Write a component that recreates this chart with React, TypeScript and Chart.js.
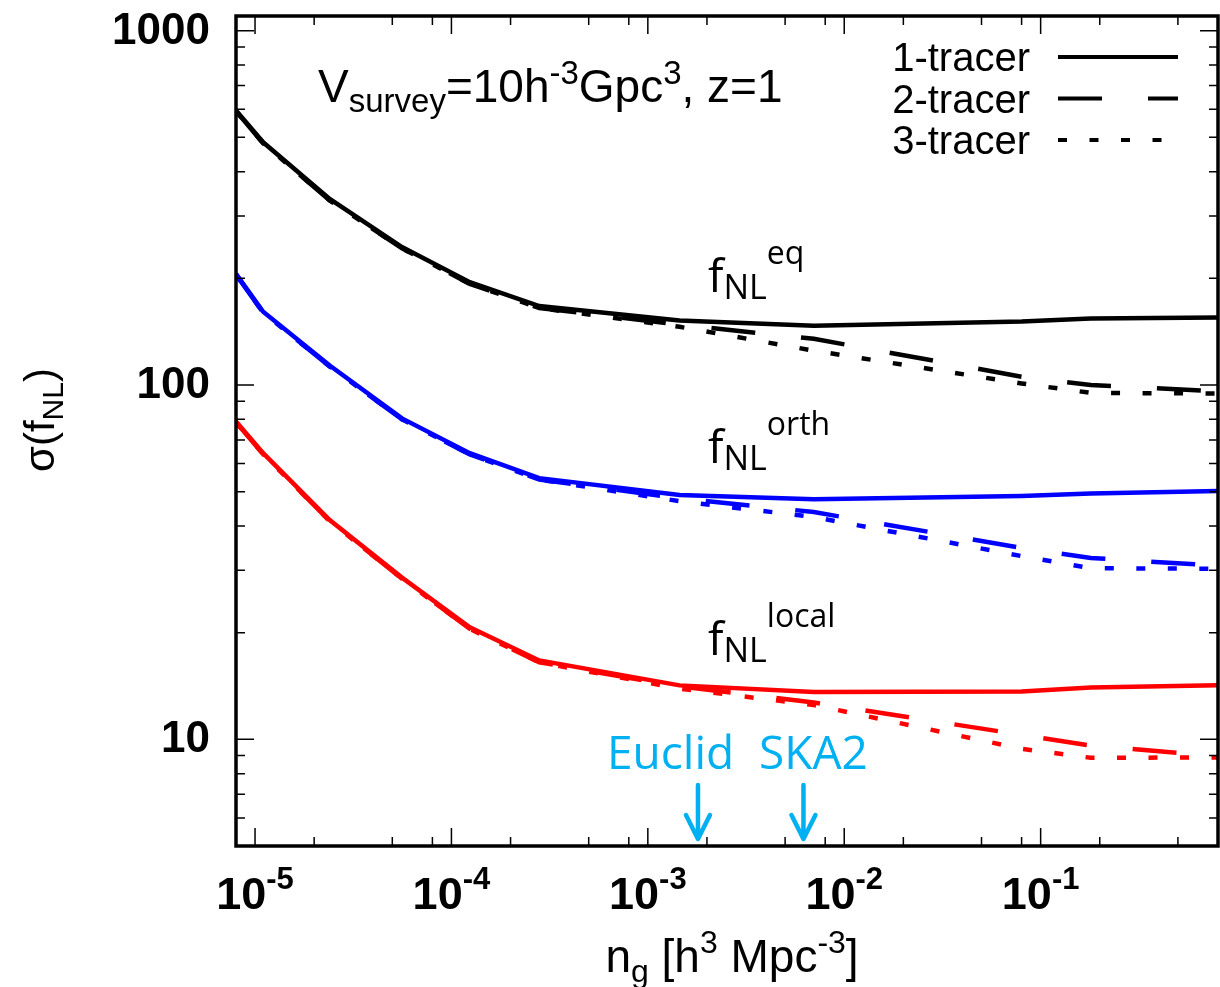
import React, { useEffect, useRef } from 'react';
import { Chart, registerables } from 'chart.js';

Chart.register(...registerables);

// ---- data ----
const nG = [8e-6, 1.1e-5, 2.4e-5, 5.6e-5, 1.24e-4, 2.8e-4, 1.45e-3, 7e-3, 0.08, 0.18, 0.8];

const eqOne = [595, 484, 335, 245, 195, 167, 152, 147, 151, 154, 155];
const eqTwo = [593, 481, 332, 243, 193, 165, 148, 135, 105.5, 100, 96];
const eqThree = [593, 481, 332, 243, 193, 165, 146, 125, 101, 95, 94.6];

const orthOne = [206, 161, 113.5, 80.5, 64.2, 54.6, 48.9, 47.6, 48.6, 49.4, 50.2];
const orthTwo = [205, 160, 112.8, 80, 63.7, 54.1, 47.9, 43.8, 34.7, 32.5, 30.9];
const orthThree = [205, 160, 112.8, 80, 63.7, 54.1, 47.0, 42.4, 32.9, 30.4, 30.3];

const localOne = [78.9, 64.2, 41.6, 28.6, 20.7, 16.7, 14.2, 13.6, 13.65, 14.0, 14.2];
const localTwo = [78.5, 63.8, 41.3, 28.4, 20.5, 16.5, 14.1, 12.7, 10.3, 9.6, 8.96];
const localThree = [78.5, 63.8, 41.3, 28.4, 20.5, 16.5, 13.9, 12.5, 9.4, 8.87, 8.89];

const xMajorExp = [-5, -4, -3, -2, -1];
const yMajorTicks = [10, 100, 1000];
const tracerNames = ['1-tracer', '2-tracer', '3-tracer'];
const surveyNames = ['Euclid', 'SKA2'];
const surveyDensity = [1.8e-3, 6.2e-3];

const X_MIN = 8e-6, X_MAX = 0.8, Y_MIN = 5, Y_MAX = 1100;

const DASH2 = [44, 46];
const DASH3 = [9, 22.5];
const dashes = [[], DASH2, DASH3];

type Part = { t: string; size: number; dy?: number; weight?: string; family?: string };

function drawRich(ctx: CanvasRenderingContext2D, parts: Part[], x: number, y: number, align: 'left' | 'center' | 'right') {
  const fam = (p: Part) => `${p.weight || 'normal'} ${p.size}px ${p.family || '"Liberation Sans", Arial, sans-serif'}`;
  let total = 0;
  const widths = parts.map((p) => {
    ctx.font = fam(p);
    const w = ctx.measureText(p.t).width;
    total += w;
    return w;
  });
  let cx = align === 'left' ? x : align === 'center' ? x - total / 2 : x - total;
  ctx.textAlign = 'left';
  ctx.textBaseline = 'alphabetic';
  parts.forEach((p, i) => {
    ctx.font = fam(p);
    ctx.fillText(p.t, cx, y + (p.dy || 0));
    cx += widths[i];
  });
}

const framePlugin = {
  id: 'frame',
  afterDatasetsDraw(chart: any) {
    const ctx: CanvasRenderingContext2D = chart.ctx;
    const xs = chart.scales.x;
    const ys = chart.scales.y;
    const { left, right, top, bottom } = chart.chartArea;
    ctx.save();
    ctx.setLineDash([]);
    ctx.strokeStyle = '#000';
    ctx.fillStyle = '#000';

    // ticks
    ctx.lineWidth = 1.5;
    const xTick = (v: number, len: number) => {
      const px = xs.getPixelForValue(v);
      if (px < left - 0.5 || px > right + 0.5) return;
      ctx.beginPath();
      ctx.moveTo(px, bottom); ctx.lineTo(px, bottom - len);
      ctx.moveTo(px, top); ctx.lineTo(px, top + len);
      ctx.stroke();
    };
    const yTick = (v: number, len: number) => {
      const py = ys.getPixelForValue(v);
      if (py < top - 0.5 || py > bottom + 0.5) return;
      ctx.beginPath();
      ctx.moveTo(left, py); ctx.lineTo(left + len, py);
      ctx.moveTo(right, py); ctx.lineTo(right - len, py);
      ctx.stroke();
    };
    for (let e = -6; e <= 0; e++) {
      const d = Math.pow(10, e);
      xTick(d, 18);
      [2, 5, 8].forEach((m) => xTick(m * d, 9));
    }
    for (let e = 0; e <= 3; e++) {
      const d = Math.pow(10, e);
      yTick(d, 18);
      for (let m = 2; m <= 9; m++) yTick(m * d, 9);
    }

    // border
    ctx.lineWidth = 3.5;
    ctx.strokeRect(left, top, right - left, bottom - top);

    // y tick labels
    ctx.font = 'bold 44px "Liberation Sans", Arial, sans-serif';
    ctx.textAlign = 'right';
    ctx.textBaseline = 'middle';
    yMajorTicks.forEach((v) => {
      ctx.fillText(String(v), 210, ys.getPixelForValue(v) + 1);
    });

    // x tick labels
    xMajorExp.forEach((e) => {
      const px = xs.getPixelForValue(Math.pow(10, e));
      drawRich(ctx, [
        { t: '10', size: 45, weight: 'bold' },
        { t: String(e), size: 31, weight: 'bold', dy: -20 },
      ], px, 909, 'center');
    });

    // axis titles
    drawRich(ctx, [
      { t: 'n', size: 46 },
      { t: 'g', size: 32, dy: 10 },
      { t: ' [h', size: 46 },
      { t: '3', size: 32, dy: -19 },
      { t: ' Mpc', size: 46 },
      { t: '-3', size: 32, dy: -19 },
      { t: ']', size: 46 },
    ], 732, 972, 'center');

    ctx.save();
    ctx.translate(54, 420);
    ctx.rotate(-Math.PI / 2);
    drawRich(ctx, [
      { t: 'σ(f', size: 42 },
      { t: 'NL', size: 30, dy: 9 },
      { t: ')', size: 42 },
    ], 0, 0, 'center');
    ctx.restore();

    // survey annotation
    drawRich(ctx, [
      { t: 'V', size: 46 },
      { t: 'survey', size: 33, dy: 10 },
      { t: '=10h', size: 46 },
      { t: '-3', size: 33, dy: -18 },
      { t: 'Gpc', size: 46 },
      { t: '3', size: 33, dy: -18 },
      { t: ', z=1', size: 46 },
    ], 318, 102, 'left');

    // fNL labels
    const fam = '"Open Sans", "Noto Sans", sans-serif';
    const fnl = (sup: string, base: number) => {
      drawRich(ctx, [
        { t: 'f', size: 46, family: fam },
        { t: 'NL', size: 34, dy: 7, family: fam },
        { t: sup, size: 32, dy: -28, family: fam },
      ], 708, base, 'left');
    };
    fnl('eq', 292);
    fnl('orth', 463);
    fnl('local', 655);

    // legend
    ctx.font = '40px "Liberation Sans", Arial, sans-serif';
    ctx.textAlign = 'right';
    ctx.textBaseline = 'alphabetic';
    const rowY = [57, 98.5, 140];
    tracerNames.forEach((name, i) => {
      ctx.fillText(name, 1030, rowY[i] + 14);
      ctx.lineWidth = 4;
      ctx.setLineDash(dashes[i]);
      ctx.beginPath();
      ctx.moveTo(1058, rowY[i]);
      ctx.lineTo(1178, rowY[i]);
      ctx.stroke();
    });
    ctx.setLineDash([]);

    // survey arrows
    const cyan = '#00b0f0';
    ctx.strokeStyle = cyan;
    ctx.fillStyle = cyan;
    ctx.lineWidth = 4.5;
    ctx.lineCap = 'round';
    ctx.lineJoin = 'round';
    const textX = [607, 759];
    surveyDensity.forEach((v, i) => {
      const px = xs.getPixelForValue(v);
      ctx.beginPath();
      ctx.moveTo(px, 785);
      ctx.lineTo(px, 838);
      ctx.moveTo(px - 12, 815);
      ctx.lineTo(px, 839);
      ctx.lineTo(px + 12, 815);
      ctx.stroke();
      ctx.font = '46px "Open Sans", "Noto Sans", sans-serif';
      ctx.textAlign = 'left';
      ctx.textBaseline = 'alphabetic';
      ctx.fillText(surveyNames[i], textX[i], 769);
    });

    ctx.restore();
  },
};

function mk(label: string, arr: number[], color: string, dash: number[], order: number) {
  return {
    label,
    data: nG.map((x, i) => ({ x, y: arr[i] })),
    borderColor: color,
    backgroundColor: color,
    borderWidth: 4.5,
    borderDash: dash,
    pointRadius: 0,
    tension: 0,
    fill: false,
    order,
  };
}

export default function App() {
  const ref = useRef<HTMLCanvasElement>(null);
  useEffect(() => {
    if (!ref.current) return;
    const chart = new Chart(ref.current, {
      type: 'line',
      data: {
        datasets: [
          mk('eq 1-tracer', eqOne, '#000000', [], 1),
          mk('eq 2-tracer', eqTwo, '#000000', DASH2, 2),
          mk('eq 3-tracer', eqThree, '#000000', DASH3, 3),
          mk('orth 1-tracer', orthOne, '#0000ff', [], 1),
          mk('orth 2-tracer', orthTwo, '#0000ff', DASH2, 2),
          mk('orth 3-tracer', orthThree, '#0000ff', DASH3, 3),
          mk('local 1-tracer', localOne, '#ff0000', [], 1),
          mk('local 2-tracer', localTwo, '#ff0000', DASH2, 2),
          mk('local 3-tracer', localThree, '#ff0000', DASH3, 3),
        ] as any,
      },
      options: {
        responsive: false,
        animation: false,
        layout: { padding: { left: 236, top: 16, right: 2, bottom: 141 } },
        scales: {
          x: { type: 'logarithmic', min: X_MIN, max: X_MAX, display: false },
          y: { type: 'logarithmic', min: Y_MIN, max: Y_MAX, display: false },
        },
        plugins: { legend: { display: false }, tooltip: { enabled: false } },
        elements: { point: { radius: 0 } },
      } as any,
      plugins: [framePlugin],
    });
    return () => chart.destroy();
  }, []);
  return (
    <div style={{ position: 'fixed', left: 0, top: 0, width: 1220, height: 987, background: '#fff' }}>
      <canvas ref={ref} width={1220} height={987} style={{ display: 'block' }} />
    </div>
  );
}
